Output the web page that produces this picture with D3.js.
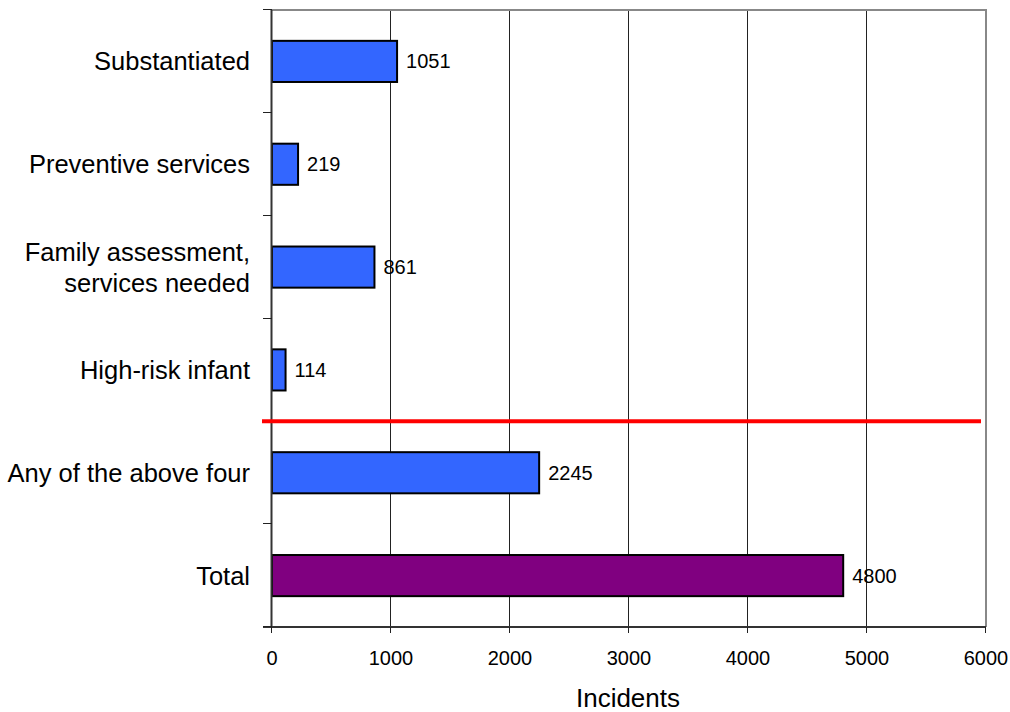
<!DOCTYPE html>
<head>
  <script src="https://d3js.org/d3.v7.min.js"></script>
  <style>
    body { margin: 0; background: #fff; }
    text { font-family: Arial, "Liberation Sans", sans-serif; fill: #000; }
  </style>
</head>
<body>
  <svg width="1010" height="712"></svg>
  <script>
    const categories = [
      ["Substantiated"],
      ["Preventive services"],
      ["Family assessment,", "services needed"],
      ["High-risk infant"],
      ["Any of the above four"],
      ["Total"]
    ];
    const values = [1051, 219, 861, 114, 2245, 4800];
    const barColors = ["#3366ff", "#3366ff", "#3366ff", "#3366ff", "#3366ff", "#800080"];
    const xTicks = [0, 1000, 2000, 3000, 4000, 5000, 6000];
    const dividerAfter = 4;

    const plotL = 272, plotR = 986, plotT = 10, plotB = 627;
    const svg = d3.select("svg");

    const x = d3.scaleLinear().domain([0, 6000]).range([plotL, plotR]);
    const y = d3.scaleBand().domain(d3.range(categories.length)).range([plotT, plotB]).paddingInner(0.6).paddingOuter(0.3);
    const yEdge = d3.scaleLinear().domain([0, categories.length]).range([plotT, plotB]);
    const crisp = v => Math.round(v) - 0.5;

    // gridlines
    svg.append("g").selectAll("line").data(xTicks.slice(1, -1)).enter().append("line")
      .attr("x1", d => crisp(x(d))).attr("x2", d => crisp(x(d)))
      .attr("y1", plotT).attr("y2", plotB)
      .attr("stroke", "#222").attr("stroke-width", 1);

    // top & right frame
    svg.append("path")
      .attr("d", `M${plotL},${plotT}H${plotR}V${plotB}`)
      .attr("fill", "none").attr("stroke", "#888").attr("stroke-width", 2);

    // bars
    svg.append("g").selectAll("rect").data(values).enter().append("rect")
      .attr("x", x(0))
      .attr("y", (d, i) => y(i))
      .attr("width", d => x(d) - x(0))
      .attr("height", y.bandwidth())
      .attr("fill", (d, i) => barColors[i])
      .attr("stroke", "#000").attr("stroke-width", 2);

    // value labels
    svg.append("g").selectAll("text").data(values).enter().append("text")
      .attr("x", d => x(d) + 9)
      .attr("y", (d, i) => y(i) + y.bandwidth() / 2)
      .attr("dy", "0.35em")
      .attr("font-size", 20)
      .text(d => d);

    // axes
    svg.append("line").attr("x1", plotL - 0.5).attr("x2", plotL - 0.5).attr("y1", plotT).attr("y2", plotB)
      .attr("stroke", "#333").attr("stroke-width", 2);
    svg.append("line").attr("x1", plotL - 9).attr("x2", plotR).attr("y1", plotB).attr("y2", plotB)
      .attr("stroke", "#333").attr("stroke-width", 2);

    svg.append("g").selectAll("line").data(d3.range(categories.length + 1)).enter().append("line")
      .attr("x1", plotL - 9).attr("x2", plotL)
      .attr("y1", d => crisp(yEdge(d))).attr("y2", d => crisp(yEdge(d)))
      .attr("stroke", "#222").attr("stroke-width", 1);

    svg.append("g").selectAll("line").data(xTicks).enter().append("line")
      .attr("x1", d => crisp(x(d))).attr("x2", d => crisp(x(d)))
      .attr("y1", plotB).attr("y2", plotB + 6)
      .attr("stroke", "#222").attr("stroke-width", 1);

    svg.append("g").selectAll("text").data(xTicks).enter().append("text")
      .attr("x", d => x(d)).attr("y", 665)
      .attr("text-anchor", "middle").attr("font-size", 20)
      .text(d => d);

    // category labels
    const catG = svg.append("g").selectAll("text").data(categories).enter().append("text")
      .attr("text-anchor", "end").attr("font-size", 25.5)
      .attr("transform", (d, i) => `translate(250,${y(i) + y.bandwidth() / 2})`);
    catG.selectAll("tspan").data(d => d.map((t, j) => ({ t, j, n: d.length }))).enter().append("tspan")
      .attr("x", 0)
      .attr("y", d => (d.j - (d.n - 1) / 2) * 31)
      .attr("dy", "0.35em")
      .text(d => d.t);

    // divider line
    svg.append("line")
      .attr("x1", 262).attr("x2", 981)
      .attr("y1", yEdge(dividerAfter)).attr("y2", yEdge(dividerAfter))
      .attr("stroke", "#ff0000").attr("stroke-width", 4);

    svg.append("text").attr("x", (plotL + plotR) / 2 - 1).attr("y", 707)
      .attr("text-anchor", "middle").attr("font-size", 26)
      .text("Incidents");
  </script>
</body>
